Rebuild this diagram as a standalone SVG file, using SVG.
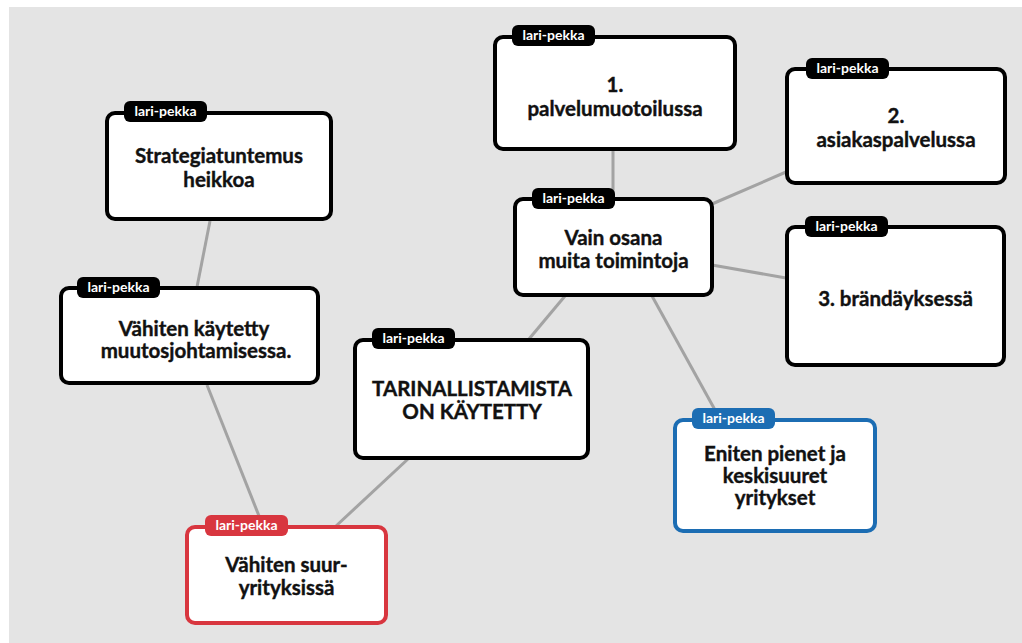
<svg xmlns="http://www.w3.org/2000/svg" width="1022" height="643" viewBox="0 0 1022 643">
  <style>
    .bg { fill: #e4e4e4; }
    .box { fill: #ffffff; stroke: #000000; stroke-width: 4; }
    .box.red { stroke: #d8363f; }
    .box.blue { stroke: #1c6db3; }
    .tag { fill: #000000; }
    .tag.red { fill: #d8363f; }
    .tag.blue { fill: #1c6db3; }
    .tagtxt { font-family: Lato, "Liberation Sans", sans-serif; font-weight: 700; font-size: 14px; fill: #ffffff; text-anchor: middle; }
    .lbl { font-family: Lato, "Liberation Sans", sans-serif; font-weight: 700; font-size: 20.5px; fill: #111111; stroke: #111111; stroke-width: 0.4; text-anchor: middle; }
    .edge { stroke: #a3a3a3; stroke-width: 3; fill: none; }
  </style>

  <rect x="0" y="0" width="1022" height="643" fill="#ffffff"/>
  <rect class="bg" x="9" y="7" width="1013" height="636"/>

  <g id="connectors">
    <line class="edge" x1="210" y1="221" x2="197" y2="287"/>
    <line class="edge" x1="207" y1="385" x2="263" y2="526"/>
    <line class="edge" x1="408" y1="459" x2="336" y2="526"/>
    <line class="edge" x1="565" y1="296" x2="529" y2="339"/>
    <line class="edge" x1="613" y1="150" x2="613" y2="199"/>
    <line class="edge" x1="712" y1="204" x2="786" y2="172"/>
    <line class="edge" x1="712" y1="265" x2="786" y2="278"/>
    <line class="edge" x1="652" y1="296" x2="720" y2="419"/>
  </g>

  <g id="node-strategia">
    <rect class="box" x="107" y="113" width="224" height="106" rx="8"/>
    <rect class="tag" x="124" y="101" width="83" height="21" rx="6"/>
    <text class="tagtxt" x="165.5" y="116">lari-pekka</text>
    <text class="lbl" x="219" y="163">Strategiatuntemus</text>
    <text class="lbl" x="219" y="187">heikkoa</text>
  </g>

  <g id="node-palvelumuotoilu">
    <rect class="box" x="495" y="37" width="240" height="112" rx="8"/>
    <rect class="tag" x="512" y="25" width="83" height="21" rx="6"/>
    <text class="tagtxt" x="553.5" y="40">lari-pekka</text>
    <text class="lbl" x="615" y="92">1.</text>
    <text class="lbl" x="615" y="116">palvelumuotoilussa</text>
  </g>

  <g id="node-asiakaspalvelu">
    <rect class="box" x="787" y="69" width="218" height="114" rx="8"/>
    <rect class="tag" x="806" y="58" width="83" height="21" rx="6"/>
    <text class="tagtxt" x="847.5" y="73">lari-pekka</text>
    <text class="lbl" x="896" y="123">2.</text>
    <text class="lbl" x="896" y="147">asiakaspalvelussa</text>
  </g>

  <g id="node-vain-osana">
    <rect class="box" x="515" y="199" width="197" height="96" rx="8"/>
    <rect class="tag" x="532" y="188" width="83" height="21" rx="6"/>
    <text class="tagtxt" x="573.5" y="203">lari-pekka</text>
    <text class="lbl" x="613.5" y="245">Vain osana</text>
    <text class="lbl" x="613.5" y="268">muita toimintoja</text>
  </g>

  <g id="node-brandays">
    <rect class="box" x="787" y="227" width="217" height="138" rx="8"/>
    <rect class="tag" x="805" y="216" width="83" height="21" rx="6"/>
    <text class="tagtxt" x="846.5" y="231">lari-pekka</text>
    <text class="lbl" x="895.5" y="306">3. brändäyksessä</text>
  </g>

  <g id="node-muutosjohtaminen">
    <rect class="box" x="61" y="288" width="257" height="95" rx="8"/>
    <rect class="tag" x="77" y="277" width="83" height="21" rx="6"/>
    <text class="tagtxt" x="118.5" y="292">lari-pekka</text>
    <text class="lbl" x="194" y="336">Vähiten käytetty</text>
    <text class="lbl" x="196" y="358">muutosjohtamisessa.</text>
  </g>

  <g id="node-tarinallistaminen">
    <rect class="box" x="355" y="340" width="233" height="118" rx="8"/>
    <rect class="tag" x="372" y="328" width="83" height="21" rx="6"/>
    <text class="tagtxt" x="413.5" y="343">lari-pekka</text>
    <text class="lbl" x="472" y="396">TARINALLISTAMISTA</text>
    <text class="lbl" x="472" y="419">ON KÄYTETTY</text>
  </g>

  <g id="node-pienet">
    <rect class="box blue" x="675" y="420" width="200" height="111" rx="8"/>
    <rect class="tag blue" x="692" y="408" width="83" height="21" rx="6"/>
    <text class="tagtxt" x="733.5" y="423">lari-pekka</text>
    <text class="lbl" x="775" y="461">Eniten pienet ja</text>
    <text class="lbl" x="775" y="483">keskisuuret</text>
    <text class="lbl" x="775" y="505">yritykset</text>
  </g>

  <g id="node-suuryritykset">
    <rect class="box red" x="187" y="527" width="199" height="96" rx="8"/>
    <rect class="tag red" x="205" y="515" width="83" height="21" rx="6"/>
    <text class="tagtxt" x="246.5" y="530">lari-pekka</text>
    <text class="lbl" x="286.5" y="572">Vähiten suur-</text>
    <text class="lbl" x="286.5" y="595">yrityksissä</text>
  </g>
</svg>
